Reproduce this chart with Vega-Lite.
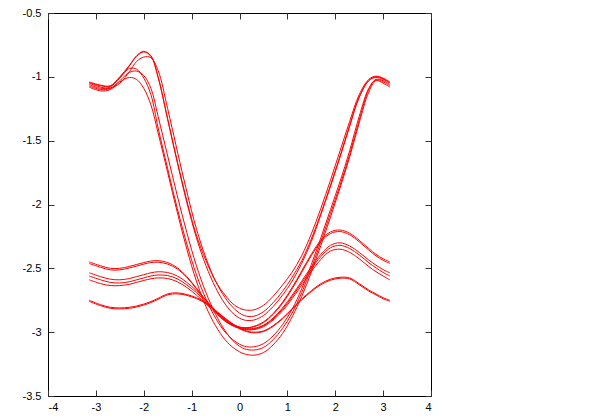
{
"$schema":"https://vega.github.io/schema/vega-lite/v6.json",
"width":383,"height":383,
"autosize":"none",
"padding":{"left":48,"top":13,"right":169,"bottom":24},
"background":"white",
"config":{"view":{"stroke":"#000000","strokeWidth":1},
 "axis":{"domain":false,"grid":false,"tickSize":-6,"tickColor":"#333333","tickWidth":1,"labelFont":"Liberation Sans","labelFontSize":11,"labelColor":"#000000","title":null}},
"data":{"values":[
{"x":-3.14,"AR1":-1.04,"AR2":-1.05,"AR3":-1.045,"AL1":-1.06,"AL2":-1.07,"AL3":-1.08,"B1a":-2.45,"B1b":-2.462,"B2a":-2.535,"B2b":-2.56,"B2c":-2.59,"B3a":-2.75,"B3b":-2.758},
{"x":-2.9,"AR1":-1.065,"AR2":-1.08,"AR3":-1.07,"AL1":-1.09,"AL2":-1.10,"AL3":-1.11,"B1a":-2.48,"B1b":-2.492,"B2a":-2.565,"B2b":-2.59,"B2c":-2.62,"B3a":-2.785,"B3b":-2.793},
{"x":-2.7,"AR1":-1.07,"AR2":-1.09,"AR3":-1.075,"AL1":-1.08,"AL2":-1.09,"AL3":-1.10,"B1a":-2.50,"B1b":-2.512,"B2a":-2.585,"B2b":-2.61,"B2c":-2.635,"B3a":-2.805,"B3b":-2.813},
{"x":-2.5,"AR1":-1.0,"AR2":-1.05,"AR3":-1.005,"AL1":-1.01,"AL2":-1.03,"AL3":-1.04,"B1a":-2.50,"B1b":-2.512,"B2a":-2.59,"B2b":-2.615,"B2c":-2.635,"B3a":-2.81,"B3b":-2.818},
{"x":-2.3,"AR1":-0.91,"AR2":-0.96,"AR3":-0.915,"AL1":-0.935,"AL2":-0.965,"AL3":-1.005,"B1a":-2.485,"B1b":-2.497,"B2a":-2.58,"B2b":-2.605,"B2c":-2.625,"B3a":-2.805,"B3b":-2.813},
{"x":-2.15,"AR1":-0.835,"AR2":-0.88,"AR3":-0.84,"AL1":-0.94,"AL2":-0.955,"AL3":-1.02,"B1a":-2.47,"B1b":-2.482,"B2a":-2.565,"B2b":-2.59,"B2c":-2.61,"B3a":-2.795,"B3b":-2.803},
{"x":-2.0,"AR1":-0.80,"AR2":-0.845,"AR3":-0.805,"AL1":-1.01,"AL2":-0.99,"AL3":-1.09,"B1a":-2.455,"B1b":-2.467,"B2a":-2.55,"B2b":-2.575,"B2c":-2.595,"B3a":-2.78,"B3b":-2.788},
{"x":-1.85,"AR1":-0.835,"AR2":-0.85,"AR3":-0.84,"AL1":-1.14,"AL2":-1.09,"AL3":-1.22,"B1a":-2.443,"B1b":-2.455,"B2a":-2.535,"B2b":-2.56,"B2c":-2.582,"B3a":-2.76,"B3b":-2.768},
{"x":-1.7,"AR1":-1.00,"AR2":-0.95,"AR3":-1.005,"AL1":-1.40,"AL2":-1.31,"AL3":-1.44,"B1a":-2.44,"B1b":-2.452,"B2a":-2.527,"B2b":-2.552,"B2c":-2.575,"B3a":-2.735,"B3b":-2.743},
{"x":-1.5,"AR1":-1.33,"AR2":-1.25,"AR3":-1.335,"AL1":-1.72,"AL2":-1.62,"AL3":-1.75,"B1a":-2.455,"B1b":-2.467,"B2a":-2.533,"B2b":-2.557,"B2c":-2.58,"B3a":-2.70,"B3b":-2.708},
{"x":-1.3,"AR1":-1.66,"AR2":-1.58,"AR3":-1.67,"AL1":-2.03,"AL2":-1.93,"AL3":-2.06,"B1a":-2.495,"B1b":-2.505,"B2a":-2.56,"B2b":-2.582,"B2c":-2.605,"B3a":-2.692,"B3b":-2.70},
{"x":-1.1,"AR1":-1.97,"AR2":-1.90,"AR3":-1.985,"AL1":-2.31,"AL2":-2.22,"AL3":-2.35,"B1a":-2.565,"B1b":-2.572,"B2a":-2.61,"B2b":-2.63,"B2c":-2.65,"B3a":-2.705,"B3b":-2.712},
{"x":-0.9,"AR1":-2.24,"AR2":-2.19,"AR3":-2.26,"AL1":-2.55,"AL2":-2.48,"AL3":-2.60,"B1a":-2.655,"B1b":-2.66,"B2a":-2.675,"B2b":-2.69,"B2c":-2.71,"B3a":-2.73,"B3b":-2.737},
{"x":-0.7,"AR1":-2.44,"AR2":-2.42,"AR3":-2.48,"AL1":-2.74,"AL2":-2.69,"AL3":-2.80,"B1a":-2.75,"B1b":-2.753,"B2a":-2.75,"B2b":-2.762,"B2c":-2.778,"B3a":-2.77,"B3b":-2.776},
{"x":-0.5,"AR1":-2.60,"AR2":-2.60,"AR3":-2.65,"AL1":-2.89,"AL2":-2.86,"AL3":-2.95,"B1a":-2.84,"B1b":-2.842,"B2a":-2.83,"B2b":-2.838,"B2c":-2.85,"B3a":-2.83,"B3b":-2.835},
{"x":-0.3,"AR1":-2.71,"AR2":-2.73,"AR3":-2.78,"AL1":-3.00,"AL2":-2.99,"AL3":-3.06,"B1a":-2.91,"B1b":-2.912,"B2a":-2.90,"B2b":-2.905,"B2c":-2.915,"B3a":-2.89,"B3b":-2.895},
{"x":-0.1,"AR1":-2.79,"AR2":-2.82,"AR3":-2.865,"AL1":-3.07,"AL2":-3.08,"AL3":-3.13,"B1a":-2.95,"B1b":-2.952,"B2a":-2.945,"B2b":-2.95,"B2c":-2.958,"B3a":-2.945,"B3b":-2.95},
{"x":0.1,"AR1":-2.825,"AR2":-2.87,"AR3":-2.905,"AL1":-3.11,"AL2":-3.13,"AL3":-3.17,"B1a":-2.965,"B1b":-2.967,"B2a":-2.97,"B2b":-2.975,"B2c":-2.98,"B3a":-2.985,"B3b":-2.99},
{"x":0.3,"AR1":-2.825,"AR2":-2.875,"AR3":-2.905,"AL1":-3.115,"AL2":-3.14,"AL3":-3.18,"B1a":-2.955,"B1b":-2.958,"B2a":-2.97,"B2b":-2.975,"B2c":-2.98,"B3a":-3.0,"B3b":-3.005},
{"x":0.5,"AR1":-2.79,"AR2":-2.84,"AR3":-2.87,"AL1":-3.09,"AL2":-3.12,"AL3":-3.16,"B1a":-2.92,"B1b":-2.925,"B2a":-2.945,"B2b":-2.95,"B2c":-2.957,"B3a":-2.99,"B3b":-2.995},
{"x":0.7,"AR1":-2.72,"AR2":-2.77,"AR3":-2.80,"AL1":-3.03,"AL2":-3.06,"AL3":-3.10,"B1a":-2.855,"B1b":-2.862,"B2a":-2.89,"B2b":-2.897,"B2c":-2.905,"B3a":-2.95,"B3b":-2.955},
{"x":0.9,"AR1":-2.63,"AR2":-2.68,"AR3":-2.71,"AL1":-2.94,"AL2":-2.97,"AL3":-3.01,"B1a":-2.765,"B1b":-2.774,"B2a":-2.81,"B2b":-2.82,"B2c":-2.832,"B3a":-2.89,"B3b":-2.895},
{"x":1.1,"AR1":-2.53,"AR2":-2.57,"AR3":-2.60,"AL1":-2.82,"AL2":-2.85,"AL3":-2.88,"B1a":-2.65,"B1b":-2.66,"B2a":-2.71,"B2b":-2.722,"B2c":-2.737,"B3a":-2.815,"B3b":-2.822},
{"x":1.3,"AR1":-2.40,"AR2":-2.44,"AR3":-2.46,"AL1":-2.66,"AL2":-2.69,"AL3":-2.72,"B1a":-2.52,"B1b":-2.531,"B2a":-2.60,"B2b":-2.614,"B2c":-2.632,"B3a":-2.74,"B3b":-2.747},
{"x":1.5,"AR1":-2.23,"AR2":-2.27,"AR3":-2.29,"AL1":-2.47,"AL2":-2.50,"AL3":-2.53,"B1a":-2.39,"B1b":-2.401,"B2a":-2.49,"B2b":-2.505,"B2c":-2.525,"B3a":-2.675,"B3b":-2.682},
{"x":1.7,"AR1":-2.03,"AR2":-2.07,"AR3":-2.08,"AL1":-2.26,"AL2":-2.29,"AL3":-2.32,"B1a":-2.28,"B1b":-2.292,"B2a":-2.39,"B2b":-2.407,"B2c":-2.43,"B3a":-2.62,"B3b":-2.628},
{"x":1.9,"AR1":-1.81,"AR2":-1.85,"AR3":-1.86,"AL1":-2.04,"AL2":-2.07,"AL3":-2.10,"B1a":-2.215,"B1b":-2.227,"B2a":-2.32,"B2b":-2.339,"B2c":-2.365,"B3a":-2.585,"B3b":-2.593},
{"x":2.1,"AR1":-1.58,"AR2":-1.62,"AR3":-1.63,"AL1":-1.82,"AL2":-1.85,"AL3":-1.87,"B1a":-2.20,"B1b":-2.212,"B2a":-2.30,"B2b":-2.32,"B2c":-2.35,"B3a":-2.57,"B3b":-2.578},
{"x":2.3,"AR1":-1.35,"AR2":-1.38,"AR3":-1.39,"AL1":-1.58,"AL2":-1.61,"AL3":-1.63,"B1a":-2.225,"B1b":-2.237,"B2a":-2.325,"B2b":-2.345,"B2c":-2.375,"B3a":-2.575,"B3b":-2.583},
{"x":2.5,"AR1":-1.14,"AR2":-1.16,"AR3":-1.16,"AL1":-1.31,"AL2":-1.34,"AL3":-1.36,"B1a":-2.28,"B1b":-2.292,"B2a":-2.375,"B2b":-2.395,"B2c":-2.425,"B3a":-2.62,"B3b":-2.628},
{"x":2.7,"AR1":-1.02,"AR2":-1.03,"AR3":-1.03,"AL1":-1.09,"AL2":-1.10,"AL3":-1.12,"B1a":-2.345,"B1b":-2.357,"B2a":-2.435,"B2b":-2.456,"B2c":-2.486,"B3a":-2.67,"B3b":-2.678},
{"x":2.85,"AR1":-0.995,"AR2":-1.005,"AR3":-1.0,"AL1":-1.02,"AL2":-1.025,"AL3":-1.03,"B1a":-2.39,"B1b":-2.402,"B2a":-2.475,"B2b":-2.496,"B2c":-2.526,"B3a":-2.70,"B3b":-2.708},
{"x":3.0,"AR1":-1.01,"AR2":-1.02,"AR3":-1.015,"AL1":-1.03,"AL2":-1.04,"AL3":-1.05,"B1a":-2.425,"B1b":-2.437,"B2a":-2.51,"B2b":-2.532,"B2c":-2.56,"B3a":-2.73,"B3b":-2.738},
{"x":3.14,"AR1":-1.04,"AR2":-1.05,"AR3":-1.045,"AL1":-1.06,"AL2":-1.07,"AL3":-1.08,"B1a":-2.45,"B1b":-2.462,"B2a":-2.535,"B2b":-2.56,"B2c":-2.59,"B3a":-2.75,"B3b":-2.758}
]},
"transform":[{"fold":["AR1","AR2","AR3","AL1","AL2","AL3","B1a","B1b","B2a","B2b","B2c","B3a","B3b"],"as":["curve","val"]}],
"layer":[
 {"mark":{"type":"line","color":"#ff0000","strokeWidth":1,"interpolate":"catmull-rom","clip":true},
  "encoding":{
   "x":{"field":"x","type":"quantitative","scale":{"domain":[-4,4],"nice":false,"zero":false},
        "axis":{"orient":"bottom","values":[-4,-3,-2,-1,0,1,2,3,4],"labelPadding":11,"labelExpr":"datum.value < 0 ? '-' + format(-datum.value, '~g') : format(datum.value, '~g')"}},
   "y":{"field":"val","type":"quantitative","scale":{"domain":[-3.5,-0.5],"nice":false,"zero":false},
        "axis":{"orient":"left","values":[-3.5,-3,-2.5,-2,-1.5,-1,-0.5],"labelPadding":13,"labelExpr":"datum.value < 0 ? '-' + format(-datum.value, '~g') : format(datum.value, '~g')"}},
   "detail":{"field":"curve","type":"nominal"}}},
 {"mark":{"type":"line","opacity":0,"interpolate":"catmull-rom"},
  "encoding":{
   "x":{"field":"x","type":"quantitative","scale":{"domain":[-4,4],"nice":false,"zero":false},
        "axis":{"orient":"top","values":[-4,-3,-2,-1,0,1,2,3,4],"labels":false}},
   "y":{"field":"val","type":"quantitative","scale":{"domain":[-3.5,-0.5],"nice":false,"zero":false},
        "axis":{"orient":"right","values":[-3.5,-3,-2.5,-2,-1.5,-1,-0.5],"labels":false}},
   "detail":{"field":"curve","type":"nominal"}}}
],
"resolve":{"axis":{"x":"independent","y":"independent"}}
}
